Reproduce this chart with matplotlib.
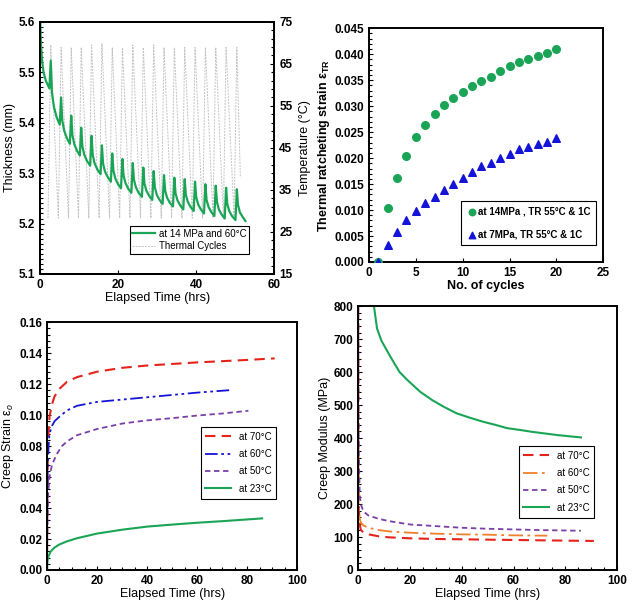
import matplotlib
matplotlib.use("Agg")
import matplotlib.pyplot as plt
from matplotlib.lines import Line2D

plt.rcParams['font.family'] = ['Liberation Sans', 'DejaVu Sans']
plt.rcParams['mathtext.fontset'] = 'custom'
plt.rcParams['mathtext.rm'] = 'Liberation Sans'
plt.rcParams['mathtext.it'] = 'Liberation Sans:italic'
plt.rcParams['mathtext.bf'] = 'Liberation Sans:bold'

# ---- top left: thickness under thermal cycling ----
thick_t = [0, 0.1, 0.25, 0.5, 0.9, 1.5, 2.4,
           2.75, 3.05, 3.55, 4.25, 5.05, 5.4, 5.7, 6.2, 6.9, 7.65,
           8.0, 8.3, 8.8, 9.5, 10.2, 10.55, 10.85, 11.35, 12.05, 12.85,
           13.2, 13.5, 14.0, 14.7, 15.5, 15.85, 16.15, 16.65, 17.35, 18.15,
           18.5, 18.8, 19.3, 20.0, 20.75, 21.1, 21.4, 21.9, 22.6, 23.4,
           23.75, 24.05, 24.55, 25.25, 26.1, 26.45, 26.75, 27.25, 27.95, 28.75,
           29.1, 29.4, 29.9, 30.6, 31.4, 31.75, 32.05, 32.55, 33.25, 34.05,
           34.4, 34.7, 35.2, 35.9, 36.7, 37.05, 37.35, 37.85, 38.55, 39.35,
           39.7, 40.0, 40.5, 41.2, 42.0, 42.35, 42.65, 43.15, 43.85, 44.65,
           45.0, 45.3, 45.8, 46.5, 47.3, 47.65, 47.95, 48.45, 49.15, 50.05,
           50.4, 50.7, 51.2, 51.9, 52.6]
thick_mm = [5.63, 5.59, 5.555, 5.525, 5.50, 5.483, 5.468,
            5.523, 5.460, 5.432, 5.411, 5.396, 5.450, 5.404, 5.384, 5.369, 5.358,
            5.414, 5.375, 5.357, 5.344, 5.335, 5.390, 5.353, 5.336, 5.324, 5.315,
            5.374, 5.336, 5.319, 5.307, 5.298, 5.355, 5.319, 5.303, 5.292, 5.283,
            5.339, 5.305, 5.289, 5.278, 5.270, 5.328, 5.295, 5.280, 5.269, 5.261,
            5.320, 5.287, 5.272, 5.261, 5.253, 5.311, 5.279, 5.265, 5.255, 5.247,
            5.304, 5.272, 5.257, 5.247, 5.239, 5.296, 5.265, 5.251, 5.241, 5.234,
            5.291, 5.260, 5.246, 5.236, 5.228, 5.288, 5.257, 5.243, 5.233, 5.225,
            5.283, 5.252, 5.238, 5.228, 5.220, 5.278, 5.247, 5.233, 5.223, 5.215,
            5.275, 5.243, 5.228, 5.218, 5.210, 5.271, 5.239, 5.225, 5.215, 5.207,
            5.268, 5.237, 5.222, 5.213, 5.205]

cycle_t = [2.05, 2.75, 4.7, 5.4, 7.3, 8.0, 9.85, 10.55, 12.5, 13.2,
           15.15, 15.85, 17.8, 18.5, 20.4, 21.1, 23.05, 23.75, 25.75, 26.45,
           28.4, 29.1, 31.05, 31.75, 33.7, 34.4, 36.35, 37.05, 39.0, 39.7,
           41.65, 42.35, 44.3, 45.0, 46.95, 47.65, 49.7, 50.4, 51.3]
cycle_temp = [28.3, 69.5, 28.3, 68.9, 28.3, 68.9, 28.3, 68.9, 28.3, 69.5,
              28.3, 69.8, 28.3, 68.9, 28.3, 68.9, 28.3, 69.5, 28.3, 68.9,
              28.3, 69.5, 28.3, 68.9, 28.3, 68.9, 28.3, 68.9, 28.3, 68.9,
              28.3, 68.9, 28.3, 68.9, 28.3, 68.9, 28.3, 68.9, 38.0]

# ---- top right: thermal ratcheting strain ----
cycles = list(range(1, 21))
tr_14mpa = [0.0, 0.0103, 0.0161, 0.0205, 0.0240, 0.0264, 0.0284, 0.0302, 0.0315, 0.0328,
            0.0339, 0.0349, 0.0357, 0.0367, 0.0377, 0.0385, 0.0391, 0.0397, 0.0403, 0.0410]
tr_7mpa = [0.0, 0.0032, 0.0058, 0.0080, 0.0099, 0.0113, 0.0125, 0.0139, 0.0151, 0.0162,
           0.0173, 0.0185, 0.0190, 0.0200, 0.0208, 0.0217, 0.0221, 0.0228, 0.0231, 0.0238]

# ---- bottom left: creep strain ----
cs70_t = [0, 0.1, 0.3, 0.6, 1.0, 2, 3, 5, 8, 12, 20, 30, 40, 50, 60, 70, 80, 91]
cs70 = [0, 0.04, 0.07, 0.088, 0.099, 0.107, 0.112, 0.117, 0.1215, 0.1245, 0.128,
        0.1305, 0.132, 0.133, 0.134, 0.1348, 0.1356, 0.1366]
cs60_t = [0, 0.1, 0.3, 0.6, 1.0, 2, 3, 5, 8, 12, 20, 30, 40, 50, 60, 74]
cs60 = [0, 0.04, 0.065, 0.08, 0.088, 0.093, 0.096, 0.099, 0.103, 0.106, 0.1085,
        0.110, 0.1115, 0.113, 0.1145, 0.1162]
cs50_t = [0, 0.2, 0.5, 1, 2, 4, 6, 8, 12, 20, 30, 40, 50, 60, 70, 80.5]
cs50 = [0, 0.03, 0.05, 0.06, 0.068, 0.075, 0.080, 0.083, 0.087, 0.091, 0.0945,
        0.0966, 0.098, 0.0997, 0.101, 0.1028]
cs23_t = [0, 0.2, 0.6, 1.5, 3, 5, 8, 12, 20, 30, 40, 50, 60, 70, 86]
cs23 = [0, 0.006, 0.009, 0.012, 0.0145, 0.0165, 0.0185, 0.0205, 0.0235, 0.026,
        0.028, 0.0293, 0.0305, 0.0315, 0.0333]

# ---- bottom right: creep modulus ----
cm70_t = [0.02, 0.05, 0.15, 0.3, 0.6, 1, 2, 4, 8, 12, 20, 30, 40, 50, 60, 70, 80, 91]
cm70 = [800, 400, 250, 180, 140, 122, 114, 108, 102, 99, 96, 94, 93, 92, 91, 90, 89, 88]
cm60_t = [0.02, 0.05, 0.15, 0.3, 0.6, 1, 2, 4, 8, 12, 20, 30, 40, 50, 60, 73]
cm60 = [800, 350, 220, 175, 155, 145, 135, 128, 121, 117, 113, 110, 108, 107, 105, 104]
cm50_t = [0.02, 0.05, 0.15, 0.3, 0.6, 1, 2, 4, 8, 12, 20, 30, 40, 50, 60, 70, 86]
cm50 = [800, 800, 500, 330, 230, 200, 178, 165, 155, 148, 138, 133, 128, 125, 123, 121, 119]
cm23_t = [6.1, 7.3, 9, 12.5, 16, 19, 24, 28.6, 33, 38, 43, 48, 53, 57.5, 63, 67, 72, 77, 82, 86]
cm23 = [800, 732, 695, 646, 600, 576, 540, 515, 495, 475, 462, 450, 440, 430,
        424, 419, 414, 409, 405, 402]

red = '#e5231b'
blue = '#1414d8'
purple = '#7b3fa6'
green = '#1aa556'
orange = '#ef7f2c'
grey = '#c2c2c2'


def frame(ax):
    for s in ax.spines.values():
        s.set_linewidth(1.4)
        s.set_color('black')
    ax.tick_params(direction='in', which='both', labelsize=8.5, width=0.8)
    ax.tick_params(which='major', length=3)
    ax.tick_params(which='minor', length=2)
    for lab in ax.get_xticklabels() + ax.get_yticklabels():
        lab.set_fontweight('bold')


def box(leg):
    leg.get_frame().set_linewidth(0.8)


fig = plt.figure(figsize=(6.35, 6.15), dpi=100)

# top left
ax1 = fig.add_axes([0.063, 0.5545, 0.369, 0.41])
ax1b = ax1.twinx()
ax1b.plot(cycle_t, cycle_temp, color=grey, lw=0.7, ls=(0, (2, 1.2)))
ax1.plot(thick_t, thick_mm, color=green, lw=1.6)
ax1.set_zorder(ax1b.get_zorder() + 1)
ax1.patch.set_visible(False)
ax1.set_xlim(0, 60)
ax1.set_ylim(5.1, 5.6)
ax1b.set_ylim(15, 75)
ax1.set_xticks([0, 20, 40, 60])
ax1.set_yticks([5.1, 5.2, 5.3, 5.4, 5.5, 5.6])
ax1.set_yticks([5.1 + 0.01 * i for i in range(51)], minor=True)
ax1b.set_yticks([15, 25, 35, 45, 55, 65, 75])
ax1b.set_yticks(list(range(15, 76, 2)), minor=True)
frame(ax1)
frame(ax1b)
ax1.set_xlabel('Elapsed Time (hrs)', fontsize=9, labelpad=1)
ax1.set_ylabel('Thickness (mm)', fontsize=9, labelpad=2)
ax1b.set_ylabel('Temperature (°C)', fontsize=9, labelpad=5)
h1 = [Line2D([], [], color=green, lw=1.6),
      Line2D([], [], color=grey, lw=0.7, ls=(0, (2, 1.2)))]
box(ax1.legend(h1, ['at 14 MPa and 60°C', 'Thermal Cycles'], fontsize=7,
               loc='lower right', bbox_to_anchor=(0.893, 0.079), borderaxespad=0,
               fancybox=False, edgecolor='black', framealpha=1, handlelength=2.3,
               handletextpad=0.4, borderpad=0.3, labelspacing=0.25))

# top right
ax2 = fig.add_axes([0.581, 0.574, 0.369, 0.380])
ax2.scatter(cycles, tr_14mpa, s=30, color=green, marker='o', zorder=3,
            label='at 14MPa , TR 55°C & 1C')
ax2.scatter(cycles, tr_7mpa, s=30, color=blue, marker='^', zorder=4,
            label='at 7MPa, TR 55°C & 1C')
ax2.set_xlim(0, 25)
ax2.set_ylim(0, 0.045)
ax2.set_xticks([0, 5, 10, 15, 20, 25])
ax2.set_yticks([0.005 * i for i in range(10)])
ax2.set_yticks([0.001 * i for i in range(46)], minor=True)
ax2.yaxis.set_major_formatter(matplotlib.ticker.FormatStrFormatter('%.3f'))
frame(ax2)
ax2.set_xlabel('No. of cycles', fontsize=9, fontweight='bold', labelpad=1)
ax2.set_ylabel('Thermal ratcheting strain ε$_{\\mathbf{TR}}$', fontsize=9,
               fontweight='bold', labelpad=2)
box(ax2.legend(loc='lower right', bbox_to_anchor=(0.97, 0.073), borderaxespad=0,
               fancybox=False, edgecolor='black', framealpha=1,
               handlelength=1.0, handletextpad=0.15, labelspacing=1.3,
               borderpad=0.6, markerscale=0.85,
               prop={'weight': 'bold', 'size': 7}))

# bottom left
ax3 = fig.add_axes([0.074, 0.0732, 0.394, 0.403])
ax3.plot(cs70_t, cs70, color=red, lw=1.5, ls=(0, (5, 3)), label='at 70°C')
ax3.plot(cs60_t, cs60, color=blue, lw=1.3, ls=(0, (7, 2, 1.5, 2, 1.5, 2)),
         label='at 60°C')
ax3.plot(cs50_t, cs50, color=purple, lw=1.3, ls=(0, (3, 2)), label='at 50°C')
ax3.plot(cs23_t, cs23, color=green, lw=1.5, label='at 23°C')
ax3.set_xlim(0, 100)
ax3.set_ylim(0, 0.16)
ax3.set_xticks([0, 20, 40, 60, 80, 100])
ax3.set_xticks(list(range(0, 101, 5)), minor=True)
ax3.set_yticks([0.02 * i for i in range(9)])
ax3.set_yticks([0.004 * i for i in range(41)], minor=True)
ax3.yaxis.set_major_formatter(matplotlib.ticker.FormatStrFormatter('%.2f'))
frame(ax3)
ax3.set_xlabel('Elapsed Time (hrs)', fontsize=9, labelpad=1)
ax3.set_ylabel('Creep Strain ε$_o$', fontsize=9, labelpad=2)
box(ax3.legend(fontsize=7, loc='upper right', bbox_to_anchor=(0.916, 0.577),
               borderaxespad=0, fancybox=False, edgecolor='black', framealpha=1,
               handlelength=2.6, labelspacing=0.75, borderpad=0.5))

# bottom right
ax4 = fig.add_axes([0.564, 0.0732, 0.408, 0.429])
ax4.plot(cm70_t, cm70, color=red, lw=1.5, ls=(0, (5, 3)), label='at 70°C')
ax4.plot(cm60_t, cm60, color=orange, lw=1.3, ls=(0, (8, 2.5, 1.5, 2.5)),
         label='at 60°C')
ax4.plot(cm50_t, cm50, color=purple, lw=1.3, ls=(0, (3, 2)), label='at 50°C')
ax4.plot(cm23_t, cm23, color=green, lw=1.5, label='at 23°C')
ax4.set_xlim(0, 100)
ax4.set_ylim(0, 800)
ax4.set_xticks([0, 20, 40, 60, 80, 100])
ax4.set_xticks(list(range(0, 101, 5)), minor=True)
ax4.set_yticks(list(range(0, 801, 100)))
ax4.set_yticks(list(range(0, 801, 20)), minor=True)
frame(ax4)
ax4.set_xlabel('Elapsed Time (hrs)', fontsize=9, labelpad=1)
ax4.set_ylabel('Creep Modulus (MPa)', fontsize=9, labelpad=2)
box(ax4.legend(fontsize=7, loc='upper right', bbox_to_anchor=(0.911, 0.470),
               borderaxespad=0, fancybox=False, edgecolor='black', framealpha=1,
               handlelength=2.6, labelspacing=0.75, borderpad=0.5))

fig.savefig('out.png', dpi=100)
